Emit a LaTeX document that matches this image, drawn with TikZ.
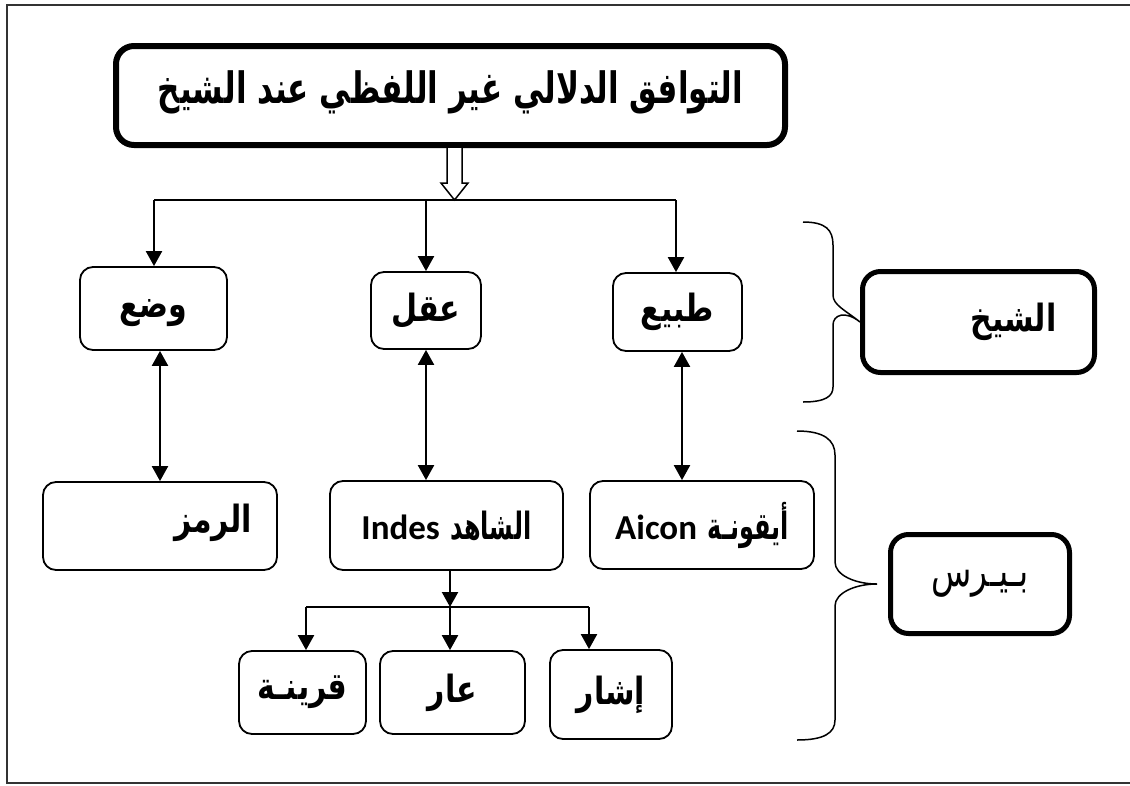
\documentclass[tikz,border=0pt]{standalone}
\usepackage{fontspec}
\usepackage{graphicx}
\TeXXeTstate=1
\newfontfamily\arabicfont[Script=Arabic]{DejaVu Sans}
\newfontfamily\latinfont{Carlito}
\newcommand{\ARtxt}[1]{\scalebox{1}[1.25]{\beginR #1\endR}}
\newcommand{\ARnarrow}[1]{\scalebox{0.8}[1.25]{\beginR #1\endR}}
\newcommand{\liftby}[2]{\raisebox{#1}[\height][\depth]{#2}}
\usetikzlibrary{arrows.meta}
\begin{document}
\begin{tikzpicture}[x=1pt,y=-1pt,
  box/.style={draw, line width=1.8pt, rounded corners=13pt, inner sep=0pt,
    font=\arabicfont\bfseries\fontsize{30}{36}\selectfont},
  heavybox/.style={box, line width=5pt, rounded corners=18pt},
  conn/.style={line width=2.2pt},
  arr/.style={conn, -{Triangle[width=16pt,length=15pt]}},
  biarr/.style={conn, {Triangle[width=16pt,length=15pt]}-{Triangle[width=16pt,length=15pt]}},
  bracestyle/.style={line width=1.5pt}]
\useasboundingbox (0,0) rectangle (1130,785);
% frame
\draw[line width=1.8pt, black!80] (1130,5) -- (7,5) -- (7,783) -- (1130,783);
% title
\node[heavybox, line width=6pt, minimum width=669pt, minimum height=99pt,
  font=\arabicfont\bfseries\fontsize{36}{42}\selectfont] (title) at (450.5,95.5)
  {\liftby{3pt}{\scalebox{0.86}[1.2]{\beginR التوافق الدلالي غير اللفظي عند الشيخ\endR}}};
% first row
\node[box, minimum width=147pt, minimum height=83pt] (wad) at (153.5,308.5) {\liftby{-5pt}{\ARtxt{وضع}}};
\node[box, minimum width=110pt, minimum height=77pt] (aql) at (426,310.5) {\ARtxt{عقل}};
\node[box, minimum width=129pt, minimum height=78pt] (tab) at (677.5,312) {\ARtxt{طبيع}};
\node[heavybox, minimum width=232pt, minimum height=101pt, text width=156pt, align=right] (shaykh) at (978.5,322) {\ARtxt{الشيخ}};
% second row
\node[box, minimum width=234pt, minimum height=88pt, text width=184pt, align=right] (ramz) at (160,526) {\liftby{3pt}{\ARtxt{الرمز}}};
\node[box, minimum width=233pt, minimum height=89pt] (indes) at (446.5,525.5)
  {{\latinfont\bfseries\fontsize{35}{40}\selectfont Indes}\ \ARnarrow{الشاهد}};
\node[box, minimum width=224pt, minimum height=88pt] (aicon) at (702,525)
  {{\latinfont\bfseries\fontsize{35}{40}\selectfont Aicon}\ \ARnarrow{أيقونـة}};
\node[heavybox, minimum width=179pt, minimum height=99pt,
  font=\arabicfont\fontsize{33}{40}\selectfont] (beirce) at (980,584)
  {\scalebox{1}[1.35]{\beginR بـيـرس\endR}};
% third row
\node[box, minimum width=127pt, minimum height=83pt] (qar) at (302.5,692.5) {\ARtxt{قرينـة}};
\node[box, minimum width=145pt, minimum height=83pt] (aar) at (452.5,692.5) {\ARtxt{عار}};
\node[box, minimum width=122pt, minimum height=89pt] (ishar) at (611,694.5) {\ARtxt{إشار}};
% hollow arrow from title
\draw[line width=1.5pt, fill=white] (447,148) -- (447,183) -- (441,183) -- (454.5,200)
  -- (468,183) -- (462,183) -- (462,148);
% branch 1
\coordinate (bw) at (154,200);
\coordinate (ba) at (426,200);
\coordinate (bt) at (676,200);
\draw[conn] (bw) -- (bt);
\draw[arr] (bw) -- (bw |- wad.north);
\draw[arr] (ba) -- (ba |- aql.north);
\draw[arr] (bt) -- (bt |- tab.north);
% double arrows
\coordinate (tx) at (682,0);
\draw[biarr] (ramz.north |- wad.south) -- (ramz.north);
\draw[biarr] (aql.south) -- (aql.south |- indes.north);
\draw[biarr] (tx |- tab.south) -- (tx |- aicon.north);
% branch 2
\coordinate (b2) at (450,607);
\coordinate (bq) at (306,607);
\coordinate (bi) at (589,607);
\draw[arr] (b2 |- indes.south) -- (b2);
\draw[conn] (bq) -- (bi);
\draw[arr] (bq) -- (bq |- qar.north);
\draw[arr] (b2) -- (b2 |- aar.north);
\draw[arr] (bi) -- (bi |- ishar.north);
% braces
\draw[bracestyle] (803,222) .. controls (826,222) and (833,230) .. (833,245)
  -- (833,295) .. controls (833,305) and (845,310) .. (shaykh.west)
  .. controls (845,310) and (833,315) .. (833,325)
  -- (833,387) .. controls (833,396) and (826,402) .. (803,402);
\coordinate (tipb) at (877,584);
\draw[bracestyle] (797,431) .. controls (824,431) and (835,440) .. (835,455)
  -- (835,562) .. controls (835,575) and (855,584) .. (tipb)
  .. controls (855,584) and (835,593) .. (835,606)
  -- (835,720) .. controls (835,733) and (824,740) .. (797,740);
\end{tikzpicture}
\end{document}
